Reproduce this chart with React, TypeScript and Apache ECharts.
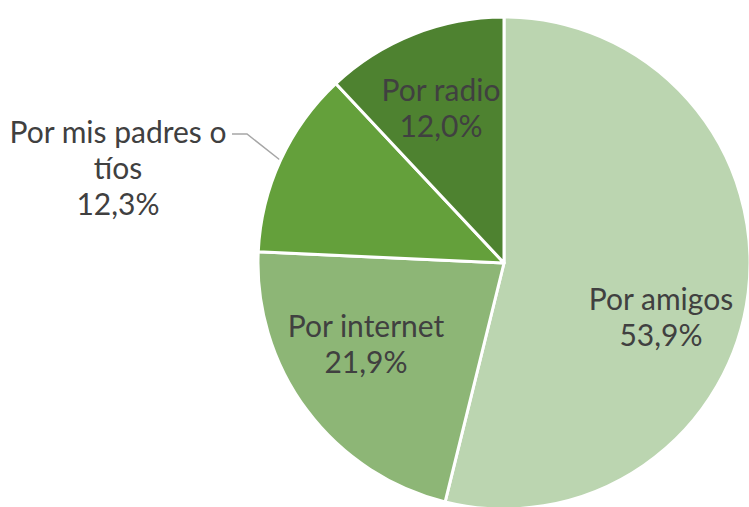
import React, { useEffect, useRef } from "react";
import * as echarts from "echarts";

const categories = ["Por amigos", "Por internet", "Por mis padres o tíos", "Por radio"];
const values = [53.9, 21.9, 12.3, 12.0];
const sliceColors = ["#BBD5B0", "#8DB676", "#64A03B", "#4E8230"];

const FONT = "Lato, 'Open Sans', sans-serif";
const TEXT_COLOR = "#404040";

// label anchor positions (text block centers)
const labelPos: Record<number, [number, number]> = {
  0: [661, 316],
  1: [366, 343],
  2: [118, 167],
  3: [441, 107],
};
// leader line for the outside label
const leaderLine = [
  [280, 160],
  [247, 134],
  [232, 134],
];

function fmtPct(v: number): string {
  return v.toFixed(1).replace(".", ",") + "%";
}

export default function App() {
  const ref = useRef<HTMLDivElement | null>(null);

  useEffect(() => {
    document.body.style.margin = "0";
    if (!ref.current) return;
    const chart = echarts.init(ref.current, null, { renderer: "svg" });

    const data = categories.map((name, i) => {
      const outside = i === 2;
      return {
        name,
        value: values[i],
        itemStyle: { color: sliceColors[i] },
        label: outside
          ? {
              position: "outside",
              formatter: () => "Por mis padres o\ntíos\n" + fmtPct(values[i]),
            }
          : {
              position: "inside",
              formatter: () => name + "\n" + fmtPct(values[i]),
            },
        labelLine: outside
          ? { show: true, length: 40, length2: 14, lineStyle: { color: "#A6A6A6", width: 1.5 } }
          : { show: false },
      };
    });

    chart.setOption({
      animation: false,
      backgroundColor: "#ffffff",
      series: [
        {
          type: "pie",
          center: [504, 263],
          radius: 246,
          startAngle: 90,
          clockwise: true,
          avoidLabelOverlap: false,
          itemStyle: { borderColor: "#ffffff", borderWidth: 3 },
          label: {
            fontSize: 30,
            lineHeight: 36,
            fontFamily: FONT,
            color: TEXT_COLOR,
            align: "center",
          },
          labelLayout: (p: any) => {
            const pos = labelPos[p.dataIndex];
            const res: any = { x: pos[0], y: pos[1], align: "center", verticalAlign: "middle" };
            if (p.dataIndex === 2) res.labelLinePoints = leaderLine;
            return res;
          },
          emphasis: { disabled: true },
          data,
        },
      ],
    });

    return () => chart.dispose();
  }, []);

  return <div ref={ref} style={{ width: 749, height: 507 }} />;
}
